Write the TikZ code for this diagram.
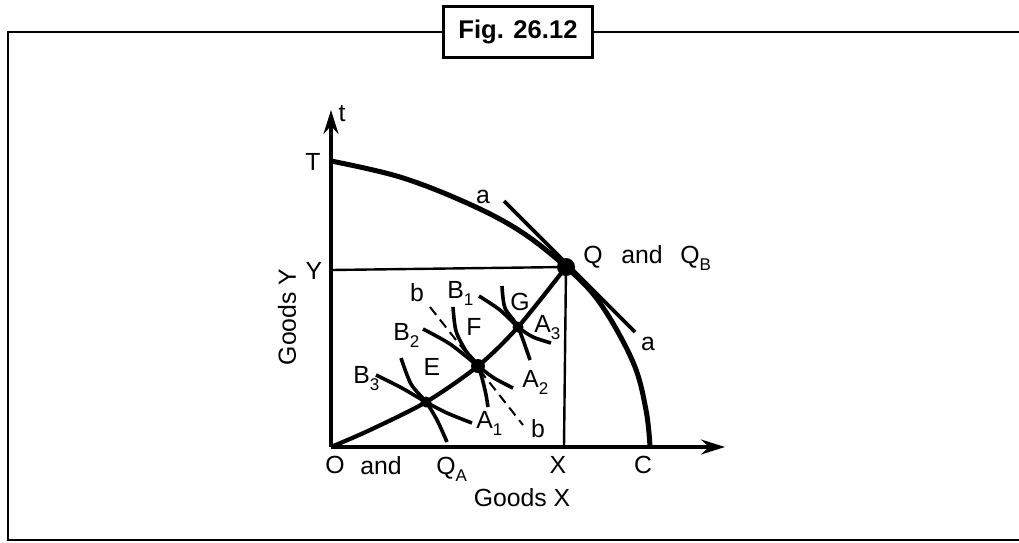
\documentclass[tikz,border=0pt]{standalone}
\usepackage{fontspec}
\setmainfont{Liberation Sans}
\usetikzlibrary{arrows.meta}
\newcommand{\lowsub}[1]{\raisebox{-3.5pt}{\fontsize{8.5}{9}\selectfont #1}}

\begin{document}
\begin{tikzpicture}[x=0.5pt,y=-0.5pt,>={Stealth[length=12pt,width=7.5pt,inset=4pt]},frame/.style={line width=1.4pt},axis/.style={->,line width=1.6pt},frontier/.style={line width=2.5pt},contract/.style={line width=2.1pt},indiff/.style={line width=1.8pt},guide/.style={line width=1.2pt},tangent/.style={line width=1.8pt},dashline/.style={dash pattern=on 5pt off 3pt,line width=1pt},label/.style={font=\fontsize{12.4}{14}\selectfont,inner sep=0pt},point/.style={circle,fill=black,inner sep=0pt,minimum size=#1},point/.default=5.5pt]
\useasboundingbox (0,0) rectangle (1019,542);
\draw[frame] (1030,32) -| (8,540) -- (1030,540);
\node[draw,fill=white,line width=1.4pt,minimum width=74.5pt,minimum height=25.5pt,font=\bfseries\fontsize{12.8}{15}\selectfont] (fig) at (518,32) {Fig. 26.12};
\coordinate (O) at (331,447); \coordinate (T) at (331,161); \coordinate (Q) at (566,267); \coordinate (Y) at (331,270); \coordinate (X) at (564,447); \coordinate (C) at (650,447);
\coordinate (E) at (426,402); \coordinate (F) at (478,366); \coordinate (G) at (518,327);
\draw[axis] (O)--(725,447); \draw[axis] (O)--(331,110);
\draw[frontier] plot[smooth,tension=0.6] coordinates {(T) (400,177) (467,203) (520,231) (Q) (600,303) (633,362) (646,410) (C)};
\draw[guide] (Y)--(Q); \draw[guide] (Q)--(X);
\draw[tangent] (504,201)--(635,332);
\draw[contract] plot[smooth,tension=0.5] coordinates {(O) (370,430) (E) (F) (G) (Q)};
\draw[indiff] plot[smooth] coordinates {(376,375) (400,387) (E) (447,413) (472,423)};
\draw[indiff] plot[smooth] coordinates {(401,358) (411,384) (E) (437,420) (447,442)};
\draw[indiff] plot[smooth] coordinates {(423,329) (450,344) (F) (494,378) (513,388)};
\draw[indiff] plot[smooth] coordinates {(453,307) (456,331) (466,351) (F) (485,390) (488,407)};
\draw[indiff] plot[smooth] coordinates {(479,296) (500,310) (G) (533,337) (551,343)};
\draw[indiff] plot[smooth] coordinates {(502,286) (505,308) (G) (530,360)};
\draw[dashline] (430,307)--(523,425);
\node[point] at (E) {}; \node[point=7pt] at (F) {}; \node[point] at (G) {}; \node[point=9pt] at (Q) {};
\node[label] (lt) at (342,114) {t}; \node[label] (lT) at (313,162) {T}; \node[label] (lY) at (314,271) {Y};
\node[label] (la1) at (483,197) {a}; \node[label] (la2) at (648,344) {a};
\node[label,anchor=base west] (lQ) at (583,263) {Q}; \node[label,anchor=base west] (land1) at (621,263) {and}; \node[label,anchor=base west] (lQB) at (680,263) {Q\lowsub{B}};
\node[label] (lb1) at (417,293) {b}; \node[label] (lb2) at (538,429) {b};
\node[label,anchor=base west] (lB1) at (447,298) {B\lowsub{1}}; \node[label,anchor=base west] (lB2) at (393,340) {B\lowsub{2}}; \node[label,anchor=base west] (lB3) at (353,383) {B\lowsub{3}};
\node[label,anchor=base west] (lA1) at (476,428) {A\lowsub{1}}; \node[label,anchor=base west] (lA2) at (522,387) {A\lowsub{2}}; \node[label,anchor=base west] (lA3) at (534,332) {A\lowsub{3}};
\node[label] (lE) at (432,367) {E}; \node[label] (lF) at (474,327) {F}; \node[label] (lG) at (520,302) {G};
\node[label] (lO) at (335,465) {O}; \node[label] (land2) at (381,466) {and}; \node[label,anchor=base west] (lQA) at (436,474) {Q\lowsub{A}};
\node[label] (lX) at (558,465) {X}; \node[label] (lC) at (643,465) {C};
\node[label] (gx) at (522,498) {Goods X}; \node[label,rotate=90] (gy) at (287,317) {Goods Y};
\end{tikzpicture}
\end{document}
